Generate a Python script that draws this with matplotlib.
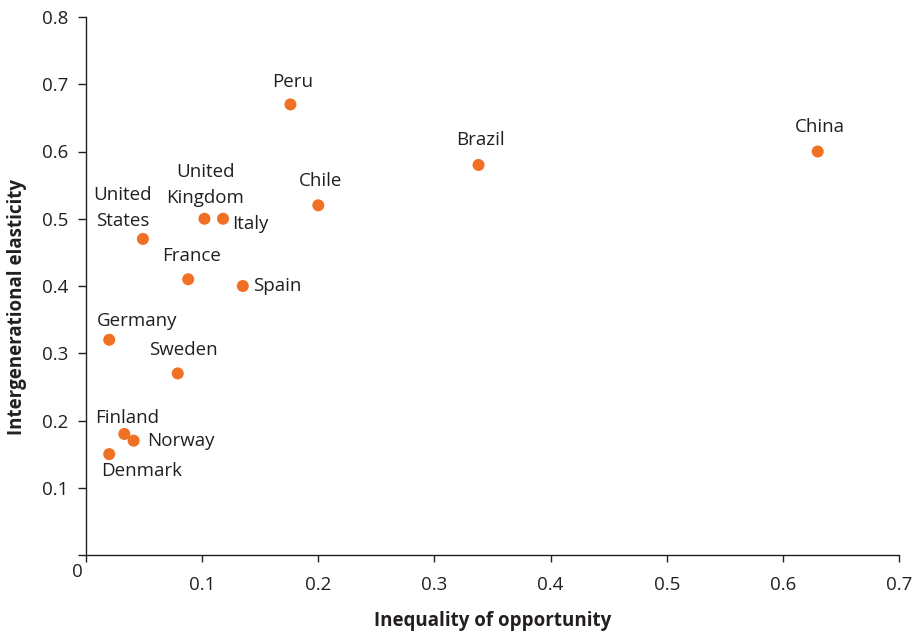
import matplotlib
matplotlib.use("Agg")
import matplotlib.pyplot as plt

# Inequality of opportunity vs. intergenerational earnings elasticity
countries = ["Peru", "Brazil", "China", "Chile", "United\nKingdom", "Italy",
             "United\nStates", "France", "Spain", "Germany", "Sweden",
             "Finland", "Norway", "Denmark"]
inequality = [0.176, 0.338, 0.630, 0.200, 0.102, 0.118,
              0.049, 0.088, 0.135, 0.020, 0.079,
              0.033, 0.041, 0.020]
elasticity = [0.67, 0.58, 0.60, 0.52, 0.50, 0.50,
              0.47, 0.41, 0.40, 0.32, 0.27,
              0.18, 0.17, 0.15]

x_ticks = [0.1, 0.2, 0.3, 0.4, 0.5, 0.6, 0.7]
y_ticks = [0.1, 0.2, 0.3, 0.4, 0.5, 0.6, 0.7, 0.8]

# label placement: (dx, dy) in pixels, horizontal alignment
label_pos = {
    "Peru": (2, 22, "center"),
    "Brazil": (2, 25, "center"),
    "China": (2, 24, "center"),
    "Chile": (2, 24, "center"),
    "United\nKingdom": (1, 34, "center"),
    "Italy": (9, -5, "left"),
    "United\nStates": (-20, 31, "center"),
    "France": (3, 23, "center"),
    "Spain": (10, 0, "left"),
    "Germany": (28, 19, "center"),
    "Sweden": (6, 23, "center"),
    "Finland": (3, 16, "center"),
    "Norway": (14, 0, "left"),
    "Denmark": (32, -17, "center"),
}

plt.rcParams["font.family"] = ["Open Sans", "DejaVu Sans"]
text_color = "#231f20"
dot_color = "#f07024"
fs = 13.5

W, H = 915, 633
fig = plt.figure(figsize=(W / 100, H / 100), dpi=100)
ax = fig.add_axes([86 / W, 78 / H, 813 / W, 538 / H])

ax.scatter(inequality, elasticity, s=75, color=dot_color, edgecolors="none", zorder=3)

for name, xv, yv in zip(countries, inequality, elasticity):
    dx, dy, ha = label_pos[name]
    ax.annotate(name, (xv, yv), xytext=(dx, dy), textcoords="offset pixels",
                ha=ha, va="center", fontsize=fs, color=text_color,
                linespacing=1.55)

ax.set_xlim(0, 0.7)
ax.set_ylim(0, 0.8)
ax.set_xticks([0] + x_ticks)
ax.set_xticklabels([""] + [f"{v:g}" for v in x_ticks])
ax.set_yticks([0] + y_ticks)
ax.set_yticklabels([""] + [f"{v:g}" for v in y_ticks])
ax.text(-0.007, -0.025, "0", transform=ax.transData, ha="center", va="center",
        fontsize=fs, color=text_color)

for side in ("top", "right"):
    ax.spines[side].set_visible(False)
for side in ("left", "bottom"):
    ax.spines[side].set_color(text_color)
    ax.spines[side].set_linewidth(1.0)

ax.tick_params(axis="x", direction="out", length=5, width=1, color=text_color,
               labelcolor=text_color, labelsize=fs, pad=10)
ax.tick_params(axis="y", direction="out", length=6, width=1, color=text_color,
               labelcolor=text_color, labelsize=fs, pad=7)

# axis titles
fig.text(493 / W, 1 - 621 / H, "Inequality of opportunity", ha="center", va="center",
         fontsize=fs, fontweight="bold", color=text_color)
fig.text(17 / W, 1 - 307 / H, "Intergenerational elasticity", ha="center", va="center",
         rotation=90, fontsize=fs, fontweight="bold", color=text_color)

fig.savefig("out.png", dpi=100)
